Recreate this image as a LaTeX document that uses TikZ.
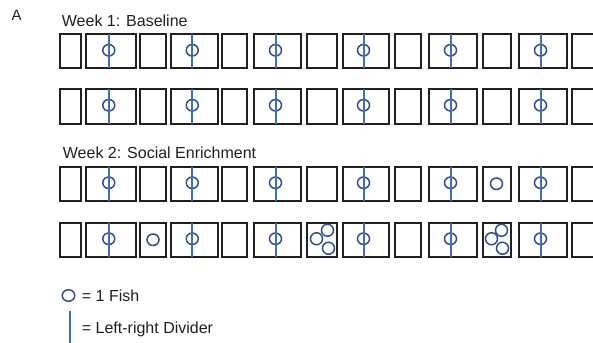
\documentclass[tikz,border=0pt]{standalone}
\usepackage{fontspec}
\setmainfont{Liberation Sans}
\usetikzlibrary{shapes.geometric,calc}
\definecolor{boxc}{RGB}{35,31,32}
\definecolor{divc}{RGB}{66,110,185}
\definecolor{fishc}{RGB}{48,78,150}
\begin{document}
\begin{tikzpicture}[x=1pt,y=-1pt,
  box/.style={draw=boxc, line width=2pt, inner sep=0pt, outer sep=0pt, anchor=north west, minimum height=34.5pt},
  divline/.style={draw=divc, line width=2pt},
  fish/.style={ellipse, draw=fishc, line width=1.5pt, minimum width=12pt, minimum height=11.5pt, inner sep=0pt},
  bigfish/.style={fish, minimum width=12pt, minimum height=12pt},
  lbl/.style={inner sep=0pt, anchor=base west, text=boxc, font=\fontsize{16}{19}\selectfont}]
\useasboundingbox (0,0) rectangle (593,342);
\clip (0,0) rectangle (593,342);

\node[lbl, font=\fontsize{15}{18}\selectfont] (A) at (11.5,21) {A};
\node[lbl] (t1) at (61.7,26.7) {Week 1: Baseline};
\node[lbl] (t2) at (62.7,158.7) {Week 2: Social Enrichment};

\foreach \ty [count=\ri] in {34,89,166.5,222.5} {
  \foreach \l/\r/\t [count=\bi] in {59.5/81/0, 86/135.5/1, 140/166/0, 171/217.5/1, 222/247/0, 254/301/1, 306.5/336.5/0, 342.5/388.5/1, 395/420.5/0, 428.5/476.5/1, 482.5/510.5/0, 518.5/566.5/1, 572/600/0} {
    \pgfmathsetmacro\w{\r-\l}
    \node[box, minimum width=\w pt] (b\ri-\bi) at (\l,\ty) {};
    \ifnum\t=1
      \node[fish] (f\ri-\bi) at ([xshift=-2pt,yshift=1pt]b\ri-\bi.center) {};
      \draw[divline] ([xshift=-2pt]b\ri-\bi.north) -- ([xshift=-2pt]b\ri-\bi.south);
    \fi
  }
}

% extra fish, week 2
\node[fish] (x3-11) at (b3-11.center) {};
\node[fish] (x4-3) at (b4-3.center) {};
\node[bigfish] (x4-7a) at ($(b4-7.center)+(6,-9.5)$) {};
\node[bigfish] (x4-7b) at ($(b4-7.center)+(-5,-1)$) {};
\node[bigfish] (x4-7c) at ($(b4-7.center)+(7,8.5)$) {};
\node[bigfish] (x4-11a) at ($(b4-11.center)+(5,-9.5)$) {};
\node[bigfish] (x4-11b) at ($(b4-11.center)+(-5,-1)$) {};
\node[bigfish] (x4-11c) at ($(b4-11.center)+(6,8.5)$) {};

% legend
\node[fish, minimum width=12.5pt] (lf) at (68.5,295.5) {};
\node[lbl] (l1) at (81.7,301.3) {= 1 Fish};
\coordinate (ld1) at (70,311);
\coordinate (ld2) at (70,345);
\draw[divline] (ld1) -- (ld2);
\node[lbl] (l2) at (81.7,333.3) {= Left-right Divider};
\end{tikzpicture}
\end{document}
